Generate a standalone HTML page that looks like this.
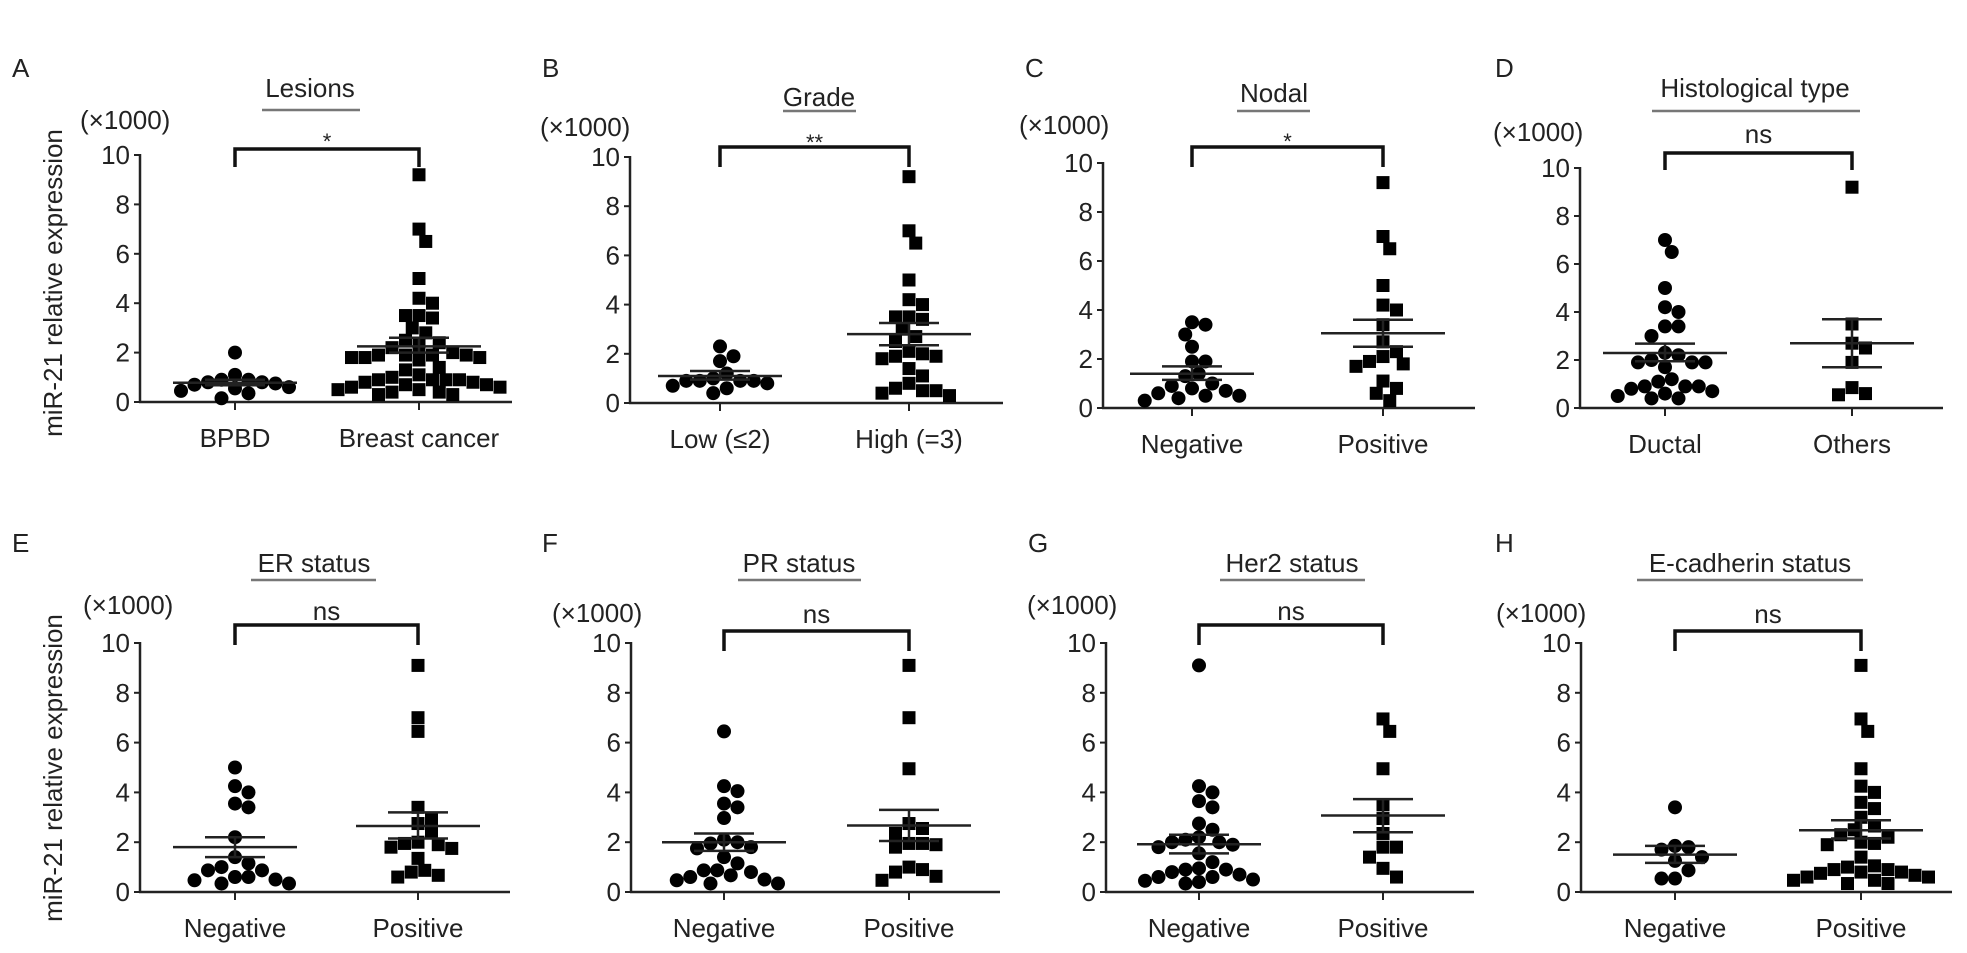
<!DOCTYPE html>
<html><head><meta charset="utf-8">
<style>
html,body{margin:0;padding:0;background:#fff;}
svg{display:block;font-family:"Liberation Sans",Arial,sans-serif;}
</style></head>
<body>
<svg id="fig" width="1967" height="953" viewBox="0 0 1967 953" xmlns="http://www.w3.org/2000/svg"></svg>
<script>
// ---- data (values ×1000) ----
const tickVals = [0, 2, 4, 6, 8, 10];
const catsA = ['BPBD', 'Breast cancer'];
const valsA1 = [2.0,1.1,0.9,0.9,0.8,0.8,0.75,0.7,0.6,0.55,0.45,0.35,0.15];
const valsA2 = [9.2,7.0,6.5,5.0,4.2,4.0,3.5,3.4,3.5,3.0,2.8,2.5,2.4,2.3,2.2,2.0,1.9,1.9,1.8,1.8,1.8,1.9,1.9,1.7,1.4,1.3,1.1,1.0,0.9,0.9,0.9,0.9,0.8,0.8,0.7,0.7,0.6,0.6,0.5,0.5,0.4,0.4,0.3,0.3];
const meanA = [0.78, 2.25];
const semA = [[0.68, 0.9], [2.0, 2.6]];
const catsB = ['Low (\u22642)', 'High (=3)'];
const valsB1 = [2.3,1.9,1.7,1.2,1.0,0.9,0.9,0.9,0.9,0.8,0.7,0.6,0.4];
const valsB2 = [9.2,7.0,6.5,5.0,4.2,4.0,3.5,3.4,3.5,3.0,2.7,2.5,2.1,2.0,1.9,1.9,1.8,1.4,1.1,0.8,0.6,0.5,0.5,0.4,0.3];
const meanB = [1.1, 2.8];
const semB = [[0.95, 1.3], [2.35, 3.25]];
const catsC = ['Negative', 'Positive'];
const valsC1 = [3.5,3.4,3.0,2.5,1.9,1.9,1.4,1.3,1.0,0.9,0.8,0.7,0.6,0.5,0.5,0.4,0.3];
const valsC2 = [9.2,7.0,6.5,5.0,4.2,4.0,3.4,2.7,2.3,2.1,1.9,1.8,1.7,1.1,0.8,0.6,0.3];
const meanC = [1.4, 3.05];
const semC = [[1.15, 1.7], [2.5, 3.6]];
const catsD = ['Ductal', 'Others'];
const valsD1 = [7.0,6.5,5.0,4.2,4.0,3.4,3.4,3.0,2.3,2.2,2.0,1.9,1.9,1.9,1.7,1.2,1.1,0.9,0.9,0.9,0.8,0.7,0.6,0.5,0.4,0.4];
const valsD2 = [9.2,3.5,2.7,2.5,1.9,0.85,0.55,0.6];
const meanD = [2.29, 2.7];
const semD = [[1.95, 2.68], [1.7, 3.7]];
const catsE = ['Negative', 'Positive'];
const valsE1 = [5.0,4.25,4.0,3.55,3.4,2.2,1.4,1.15,1.0,0.87,0.6,0.47,0.34,0.34,0.5,0.6,0.87];
const valsE2 = [9.1,7.0,6.45,3.4,2.95,2.75,2.4,2.0,1.95,1.75,1.35,0.87,0.8,0.67,0.6,1.9,1.8];
const meanE = [1.8, 2.65];
const semE = [[1.4, 2.2], [2.15, 3.2]];
const catsF = ['Negative', 'Positive'];
const valsF1 = [6.45,4.25,4.05,3.55,3.4,2.97,2.1,1.95,1.75,1.4,1.15,0.87,0.8,0.67,0.6,0.47,0.34,0.34,0.5,0.87,1.8,2.0];
const valsF2 = [9.1,7.0,4.95,2.75,2.55,2.35,1.95,1.9,1.8,1.0,0.8,0.63,0.47,0.9,1.95];
const meanF = [2.0, 2.67];
const semF = [[1.65, 2.35], [2.05, 3.3]];
const catsG = ['Negative', 'Positive'];
const valsG1 = [9.1,4.25,4.0,3.65,3.4,2.75,2.5,2.2,2.1,2.0,1.8,1.55,1.2,0.95,0.9,0.8,0.7,0.6,0.5,0.4,0.34,2.0,1.9,0.9,0.6,0.45];
const valsG2 = [6.95,6.45,4.95,3.5,2.95,2.35,1.8,1.8,1.4,0.95,0.6];
const meanG = [1.92, 3.07];
const semG = [[1.55, 2.3], [2.4, 3.73]];
const catsH = ['Negative', 'Positive'];
const valsH1 = [3.4,1.85,1.8,1.7,1.4,1.25,0.87,0.54,0.54];
const valsH2 = [9.1,6.95,6.45,4.95,4.25,4.0,3.6,3.35,3.0,2.65,2.5,2.3,2.2,2.0,1.95,1.9,1.4,1.05,1.0,0.9,0.8,0.75,0.67,0.6,0.47,0.34,0.34,0.47,0.6,0.8,0.9];
const meanH = [1.5, 2.48];
const semH = [[1.17, 1.85], [2.15, 2.88]];

// ---- layout (geometry only) ----
const panels = [
 {id:'a',letter:'A',lx:12,ly:68,title:'Lesions',tx:310,ty:88,ux1:262,ux2:360,uy:110,mx:80,my:120,ax:140,ae:512,y0:402,y10:155,c:[235,419],by:149,bd:167,sig:'*',sy:137,cats:catsA,v1:valsA1,v2:valsA2,mean:meanA,sem:semA},
 {id:'b',letter:'B',lx:542,ly:68,title:'Grade',tx:819,ty:97,ux1:783,ux2:856,uy:111,mx:540,my:127,ax:630,ae:1003,y0:403,y10:157,c:[720,909],by:147,bd:167,sig:'**',sy:138,cats:catsB,v1:valsB1,v2:valsB2,mean:meanB,sem:semB},
 {id:'c',letter:'C',lx:1025,ly:68,title:'Nodal',tx:1274,ty:93,ux1:1237,ux2:1310,uy:111,mx:1019,my:125,ax:1103,ae:1475,y0:408,y10:163,c:[1192,1383],by:147,bd:167,sig:'*',sy:137,cats:catsC,v1:valsC1,v2:valsC2,mean:meanC,sem:semC},
 {id:'d',letter:'D',lx:1495,ly:68,title:'Histological type',tx:1755,ty:88,ux1:1652,ux2:1860,uy:111,mx:1493,my:132,ax:1580,ae:1943,y0:408,y10:168,c:[1665,1852],by:153,bd:170,sig:'ns',sy:135,cats:catsD,v1:valsD1,v2:valsD2,mean:meanD,sem:semD},
 {id:'e',letter:'E',lx:12,ly:543,title:'ER status',tx:314,ty:563,ux1:251,ux2:376,uy:580,mx:83,my:605,ax:140,ae:510,y0:892,y10:643,c:[235,418],by:625,bd:645,sig:'ns',sy:612,cats:catsE,v1:valsE1,v2:valsE2,mean:meanE,sem:semE},
 {id:'f',letter:'F',lx:542,ly:543,title:'PR status',tx:799,ty:563,ux1:738,ux2:861,uy:580,mx:552,my:613,ax:631,ae:1000,y0:892,y10:643,c:[724,909],by:631,bd:651,sig:'ns',sy:615,cats:catsF,v1:valsF1,v2:valsF2,mean:meanF,sem:semF},
 {id:'g',letter:'G',lx:1028,ly:543,title:'Her2 status',tx:1292,ty:563,ux1:1220,ux2:1365,uy:580,mx:1027,my:605,ax:1106,ae:1474,y0:892,y10:643,c:[1199,1383],by:625,bd:645,sig:'ns',sy:612,cats:catsG,v1:valsG1,v2:valsG2,mean:meanG,sem:semG},
 {id:'h',letter:'H',lx:1495,ly:543,title:'E-cadherin status',tx:1750,ty:563,ux1:1637,ux2:1863,uy:580,mx:1496,my:613,ax:1581,ae:1952,y0:892,y10:643,c:[1675,1861],by:631,bd:651,sig:'ns',sy:615,cats:catsH,v1:valsH1,v2:valsH2,mean:meanH,sem:semH}
];

const NS = 'http://www.w3.org/2000/svg';
const svg = document.getElementById('fig');
function mk(tag, attrs, parent, text) {
  const el = document.createElementNS(NS, tag);
  for (const k in attrs) el.setAttribute(k, attrs[k]);
  if (text !== undefined) el.textContent = text;
  (parent || svg).appendChild(el);
  return el;
}

let yt = mk('text', {x:0,y:0,'font-size':26,'text-anchor':'middle',fill:'#222',transform:'translate(62,283) rotate(-90)'}, svg, 'miR-21 relative expression');


yt = mk('text', {x:0,y:0,'font-size':26,'text-anchor':'middle',fill:'#222',transform:'translate(62,768) rotate(-90)'}, svg, 'miR-21 relative expression');



function swarm(vals, cx, yScale, d) {
  const placed = [];
  const order = vals.map((v, i) => i).sort((a, b) => vals[b] - vals[a]);
  const out = new Array(vals.length);
  for (const i of order) {
    const y = yScale(vals[i]);
    let x = cx;
    for (let k = 0; k < 60; k++) {
      const off = (k === 0) ? 0 : Math.ceil(k / 2) * (d * 0.5) * (k % 2 ? 1 : -1);
      const tx = cx + off;
      let ok = true;
      for (const p of placed) {
        if (Math.hypot(p[0] - tx, p[1] - y) < d) { ok = false; break; }
      }
      if (ok) { x = tx; break; }
    }
    placed.push([x, y]);
    out[i] = [x, y];
  }
  return out;
}

panels.forEach(p => {
  const g = mk('g', {});
  
  
  const y = v => p.y0 - (p.y0 - p.y10) * v / 10;

  let t = mk('text', {x:p.lx, y:p.ly + 9, 'font-size':26, fill:'#222'}, g, p.letter);
  
  
  t = mk('text', {x:p.tx, y:p.ty + 9, 'font-size':26, 'text-anchor':'middle', fill:'#222'}, g, p.title);
  
  
  let l = mk('line', {x1:p.ux1, x2:p.ux2, y1:p.uy, y2:p.uy, stroke:'#777', 'stroke-width':2.5}, g);
  
  
  t = mk('text', {x:p.mx, y:p.my + 9, 'font-size':26, fill:'#222'}, g, '(\u00d71000)');
  
  

  l = mk('line', {x1:p.ax, x2:p.ax, y1:p.y10 - 1, y2:p.y0, stroke:'#222', 'stroke-width':2.5}, g);
  
  
  l = mk('line', {x1:p.ax - 1, x2:p.ae, y1:p.y0, y2:p.y0, stroke:'#222', 'stroke-width':2.5}, g);
  
  
  tickVals.forEach(tv => {
    const tk = mk('line', {x1:p.ax - 6, x2:p.ax, y1:y(tv), y2:y(tv), stroke:'#222', 'stroke-width':2}, g);
    
    
    const tl = mk('text', {x:p.ax - 10, y:y(tv) + 9, 'font-size':26, 'text-anchor':'end', fill:'#222'}, g, String(tv));
    
    
  });
  p.cats.forEach((c, i) => {
    const tk = mk('line', {x1:p.c[i], x2:p.c[i], y1:p.y0, y2:p.y0 + 8, stroke:'#222', 'stroke-width':2}, g);
    
    
    const tl = mk('text', {x:p.c[i], y:p.y0 + 45, 'font-size':26, 'text-anchor':'middle', fill:'#222'}, g, c);
    
    
  });

  const br = mk('path', {d:`M${p.c[0]},${p.bd} L${p.c[0]},${p.by} L${p.c[1]},${p.by} L${p.c[1]},${p.bd}`, fill:'none', stroke:'#111', 'stroke-width':3.5}, g);
  
  
  const sfs = p.sig === 'ns' ? 26 : 22;
  const sg = mk('text', {x:(p.c[0] + p.c[1]) / 2, y:p.sy + (p.sig === 'ns' ? 8 : 12), 'font-size':sfs, 'text-anchor':'middle', fill:'#222'}, g, p.sig);
  
  

  [p.v1, p.v2].forEach((vals, gi) => {
    const pts = swarm(vals, p.c[gi], y, 13.5);
    pts.forEach(pt => {
      let m;
      if (gi === 0) {
        m = mk('circle', {cx:pt[0], cy:pt[1], r:7, fill:'#000'}, g);
        
      } else {
        m = mk('rect', {x:pt[0] - 6.5, y:pt[1] - 6.5, width:13, height:13, fill:'#000'}, g);
        
      }
      
    });
  });

  p.mean.forEach((mv, i) => {
    const cx = p.c[i];
    const ml = mk('line', {x1:cx - 62, x2:cx + 62, y1:y(mv), y2:y(mv), stroke:'#222', 'stroke-width':2.5}, g);
    
    
    const lo = p.sem[i][0], hi = p.sem[i][1];
    const e1 = mk('line', {x1:cx - 30, x2:cx + 30, y1:y(lo), y2:y(lo), stroke:'#222', 'stroke-width':2.5}, g);
    
    
    const e2 = mk('line', {x1:cx - 30, x2:cx + 30, y1:y(hi), y2:y(hi), stroke:'#222', 'stroke-width':2.5}, g);
    
    
    const e3 = mk('line', {x1:cx, x2:cx, y1:y(lo), y2:y(hi), stroke:'#222', 'stroke-width':2.5}, g);
    
    
  });
});
</script>
</body></html>
